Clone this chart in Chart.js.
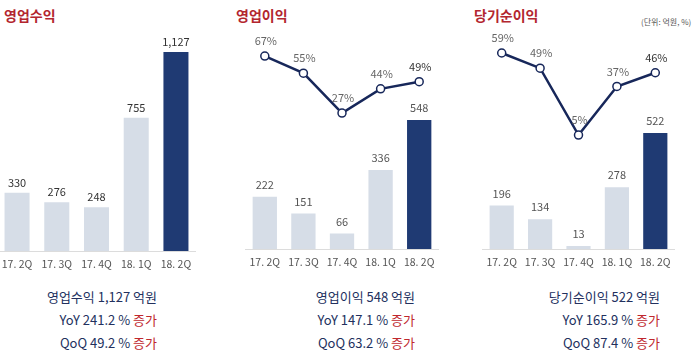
<!DOCTYPE html>
<html>
<head>
<meta charset="utf-8">
<script src="https://cdn.jsdelivr.net/npm/chart.js@4.4.1/dist/chart.umd.min.js"></script>
<style>
  body { margin: 0; width: 700px; height: 351px; background: #fff; position: relative; overflow: hidden;
         font-family: "Noto Sans CJK KR", "Noto Sans", sans-serif; }
  canvas { position: absolute; top: 0; }
  .title { position: absolute; top: 5px; font-size: 14px; font-weight: bold; color: #b3262f; }
  .unit { position: absolute; top: 16px; left: 641px; font-size: 8px; color: #555; }
  .summary { position: absolute; text-align: right; font-size: 13px; color: #22305e; line-height: 23px; top: 285px; }
  .summary .up { color: #c0282e; }
</style>
</head>
<body>
<div class="title" style="left:4px">영업수익</div>
<div class="title" style="left:236px">영업이익</div>
<div class="title" style="left:474px">당기순이익</div>
<div class="unit">(단위: 억원, %)</div>

<canvas id="revChart" width="203" height="281" style="left:-5px"></canvas>
<canvas id="opChart" width="204" height="279" style="left:240px"></canvas>
<canvas id="netChart" width="203" height="279" style="left:477px"></canvas>

<div class="summary" style="right:543px">영업수익 1,127 억원<br>YoY 241.2 % <span class="up">증가</span><br>QoQ 49.2 % <span class="up">증가</span></div>
<div class="summary" style="right:285px">영업이익 548 억원<br>YoY 147.1 % <span class="up">증가</span><br>QoQ 63.2 % <span class="up">증가</span></div>
<div class="summary" style="right:40px">당기순이익 522 억원<br>YoY 165.9 % <span class="up">증가</span><br>QoQ 87.4 % <span class="up">증가</span></div>

<script>
const quarters = ['17. 2Q', '17. 3Q', '17. 4Q', '18. 1Q', '18. 2Q'];
const revenue = [330, 276, 248, 755, 1127];
const opProfit = [222, 151, 66, 336, 548];
const opMargin = [67, 55, 27, 44, 49];
const netProfit = [196, 134, 13, 278, 522];
const netMargin = [59, 49, 5, 37, 46];

const lightBar = '#d6dde7';
const darkBar = '#1f3a73';
const lineColor = '#17275a';
const fontFamily = '"Noto Sans CJK KR", "Noto Sans", sans-serif';

// draws the numbers above bars and line points
const valueLabels = {
  id: 'valueLabels',
  afterDatasetsDraw(chart, args, opts) {
    const ctx = chart.ctx;
    ctx.save();
    ctx.textAlign = 'center';
    ctx.textBaseline = 'middle';
    ctx.font = '11px ' + fontFamily;
    chart.data.datasets.forEach((ds, i) => {
      const meta = chart.getDatasetMeta(i);
      meta.data.forEach((el, j) => {
        const last = j === ds.data.length - 1;
        if (ds.type === 'line') {
          ctx.fillStyle = last ? '#333' : '#666';
          ctx.fillText(ds.data[j] + '%', el.x + 1, el.y - 15);
        } else {
          ctx.fillStyle = opts.barColor || '#555';
          ctx.fillText(ds.data[j].toLocaleString('en-US'), el.x, el.y - opts.barOffset);
        }
      });
    });
    ctx.restore();
  }
};

function makeChart(id, bars, line, barMax, lineMin, lineMax, barOffset, barColor) {
  const datasets = [];
  if (line) {
    datasets.push({
      type: 'line',
      data: line,
      yAxisID: 'y1',
      borderColor: lineColor,
      borderWidth: 2.5,
      pointRadius: 4,
      pointBorderWidth: 1.5,
      pointBackgroundColor: '#fff',
      pointBorderColor: lineColor,
      order: 0
    });
  }
  datasets.push({
    type: 'bar',
    data: bars,
    yAxisID: 'y',
    backgroundColor: bars.map((v, i) => i === bars.length - 1 ? darkBar : lightBar),
    barPercentage: 0.63,
    categoryPercentage: 1,
    order: 1
  });

  return new Chart(document.getElementById(id).getContext('2d'), {
    data: { labels: quarters, datasets: datasets },
    plugins: [valueLabels],
    options: {
      responsive: false,
      animation: false,
      layout: { padding: { top: 20, left: 0, right: 0, bottom: 0 } },
      plugins: {
        legend: { display: false },
        tooltip: { enabled: false },
        valueLabels: { barOffset: barOffset, barColor: barColor }
      },
      scales: {
        x: {
          grid: { display: false, drawTicks: false },
          border: { display: true, color: '#dcdcdc' },
          ticks: { color: '#555', font: { size: 10.5, family: fontFamily }, padding: 7 },
          afterFit: (scale) => { scale.height = 30; }
        },
        y: { display: false, min: 0, max: barMax },
        y1: { display: false, min: lineMin, max: lineMax }
      }
    }
  });
}

makeChart('revChart', revenue, null, 1308, 0, 100, 10, '#333');
makeChart('opChart', opProfit, opMargin, 973, -68.4, 92.3, 12, '#555');
makeChart('netChart', netProfit, netMargin, 1030, -69.9, 80.7, 12, '#555');
</script>
</body>
</html>
